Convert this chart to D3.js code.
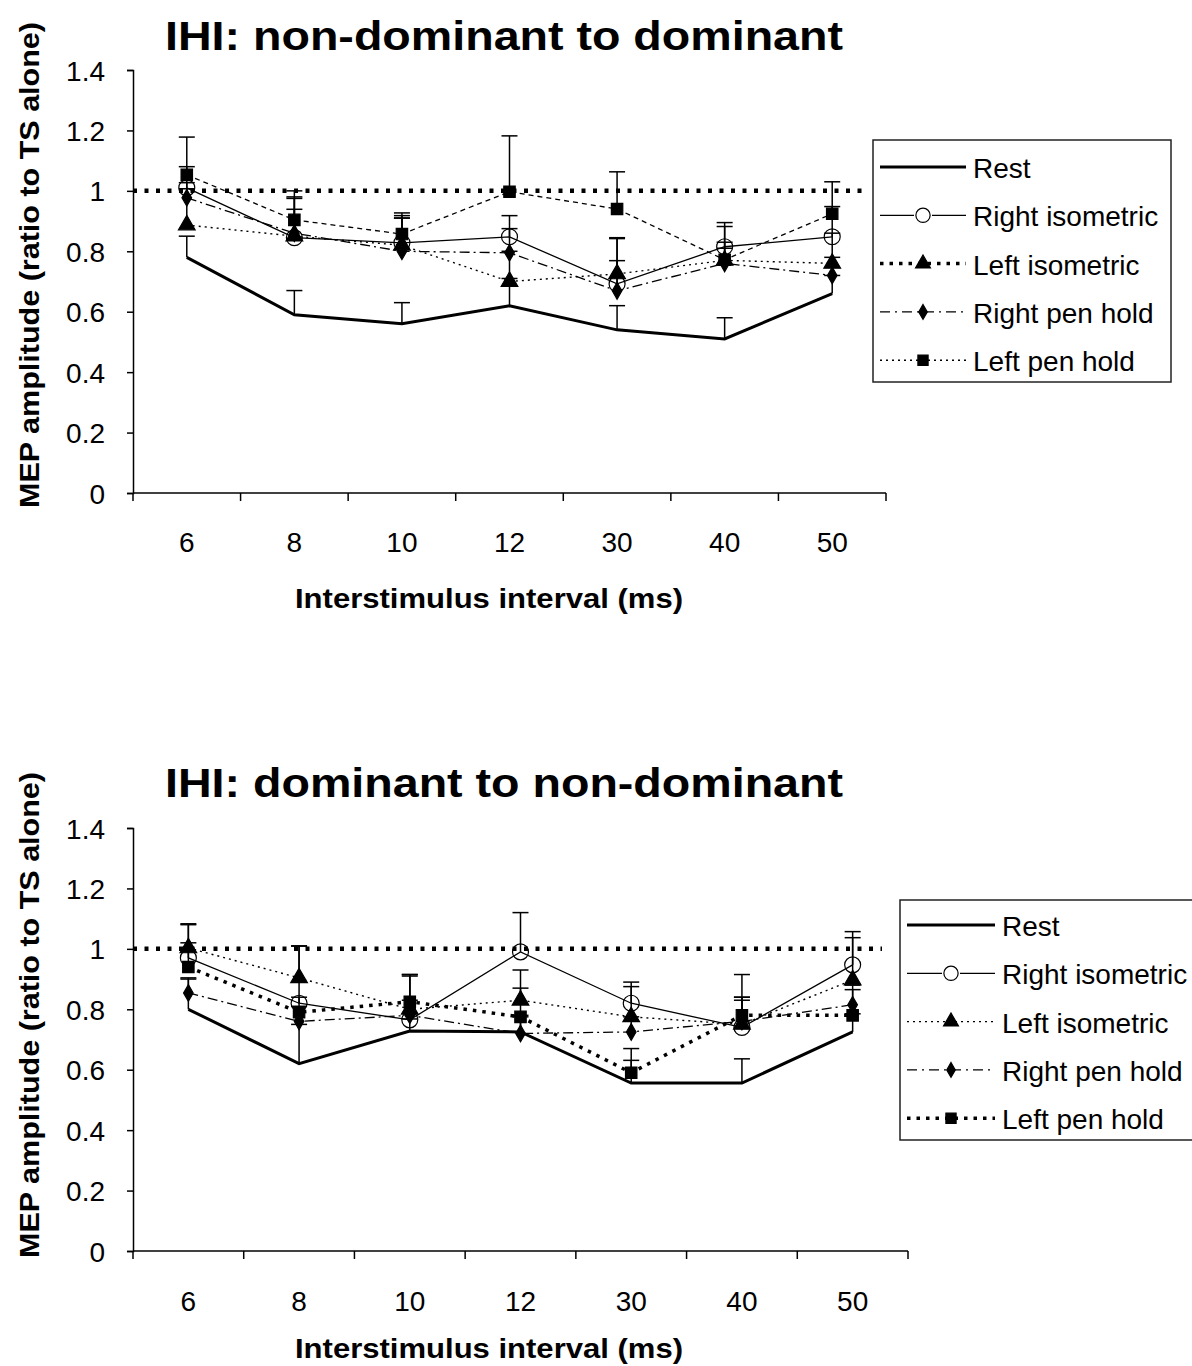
<!DOCTYPE html>
<html>
<head>
<meta charset="utf-8">
<script src="https://cdn.jsdelivr.net/npm/d3@7"></script>
<style>
  body { margin: 0; background: #fff; }
  text { font-family: "Liberation Sans", Arial, sans-serif; fill: #000; }
</style>
</head>
<body>
<svg width="1192" height="1366"></svg>
<script>
// interstimulus intervals (ms)
var isi = ["6", "8", "10", "12", "30", "40", "50"]
var yTicks = [0, 0.2, 0.4, 0.6, 0.8, 1, 1.2, 1.4]
var seriesNames = ["Rest", "Right isometric", "Left isometric", "Right pen hold", "Left pen hold"]

// non-dominant to dominant
var rest1      = [0.78, 0.59, 0.56, 0.62, 0.54, 0.51, 0.66]
var rest1Err   = [0.07, 0.08, 0.07, 0.09, 0.08, 0.07, 0.06]
var rightIso1  = [1.01, 0.845, 0.828, 0.848, 0.692, 0.815, 0.848]
var rightIso1Err = [0.07, 0.13, 0.09, 0.07, 0.15, 0.08, 0.10]
var leftIso1   = [0.887, 0.85, 0.82, 0.70, 0.725, 0.77, 0.76]
var leftIso1Err = [0.12, 0.15, 0.09, 0.10, 0.12, 0.06, 0.10]
var rightPen1  = [0.977, 0.86, 0.80, 0.795, 0.669, 0.76, 0.72]
var rightPen1Err = [0.05, 0.12, 0.11, 0.08, 0.10, 0.05, 0.06]
var leftPen1   = [1.053, 0.904, 0.857, 0.997, 0.94, 0.772, 0.924]
var leftPen1Err = [0.125, 0.035, 0.07, 0.185, 0.123, 0.11, 0.106]

// dominant to non-dominant
var rest2      = [0.80, 0.62, 0.728, 0.725, 0.556, 0.556, 0.725]
var rest2Err   = [0.10, 0.13, 0.04, 0.05, 0.075, 0.08, 0.06]
var rightIso2  = [0.97, 0.82, 0.765, 0.99, 0.82, 0.74, 0.947]
var rightIso2Err = [0.11, 0.19, 0.15, 0.13, 0.07, 0.175, 0.11]
var leftIso2   = [1.003, 0.904, 0.80, 0.83, 0.775, 0.75, 0.897]
var leftIso2Err = [0.08, 0.105, 0.11, 0.10, 0.10, 0.09, 0.14]
var rightPen2  = [0.854, 0.76, 0.78, 0.72, 0.725, 0.76, 0.815]
var rightPen2Err = [0.05, 0.05, 0.05, 0.06, 0.05, 0.07, 0.05]
var leftPen2   = [0.94, 0.79, 0.825, 0.775, 0.59, 0.78, 0.78]
var leftPen2Err = [0.08, 0.05, 0.09, 0.095, 0.08, 0.06, 0.10]

var refLevel = 1 // TS alone

var svg = d3.select("svg")

var markers = [null, d3.symbolCircle, d3.symbolTriangle, d3.symbolDiamond, d3.symbolSquare]
var markerSize = [0, 200, 120, 80, 130]
var markerFill = ["none", "none", "#000", "#000", "#000"]

var heavyDots = {dash: "4,7.5", width: 4.5}
var legendDots = {dash: "3.5,6", width: 3.5}
var lightDots = {dash: "2,4", width: 1.4}
var shortDash = {dash: "5,4", width: 1.3}

var charts = [
  {
    title: "IHI: non-dominant to dominant",
    top: 70, bottom: 493, left: 133, right: 886,
    titleY: 50, tickY: 552, xTitleY: 608, yLabelCenter: 265,
    refEnd: 862,
    vals: [rest1, rightIso1, leftIso1, rightPen1, leftPen1],
    errs: [rest1Err, rightIso1Err, leftIso1Err, rightPen1Err, leftPen1Err],
    lineStyle: [{dash: null, width: 3}, {dash: null, width: 1.3}, lightDots, {dash: "10,4,2,4", width: 1.3}, shortDash],
    legend: {x: 873, y: 140, w: 298, h: 242, rowY: 167, rowH: 48.3, sx0: 880, sx1: 966, tx: 973},
    legendStyle: [{dash: null, width: 3}, {dash: null, width: 1.3}, legendDots, {dash: "10,5,2,5", width: 1.3}, lightDots]
  },
  {
    title: "IHI: dominant to non-dominant",
    top: 828, bottom: 1251, left: 133, right: 908,
    titleY: 797, tickY: 1311, xTitleY: 1358, yLabelCenter: 1015,
    refEnd: 882,
    vals: [rest2, rightIso2, leftIso2, rightPen2, leftPen2],
    errs: [rest2Err, rightIso2Err, leftIso2Err, rightPen2Err, leftPen2Err],
    lineStyle: [{dash: null, width: 3}, {dash: null, width: 1.3}, lightDots, {dash: "10,4,2,4", width: 1.3}, legendDots],
    legend: {x: 900, y: 900, w: 300, h: 240, rowY: 925, rowH: 48.3, sx0: 907, sx1: 995, tx: 1002},
    legendStyle: [{dash: null, width: 3}, {dash: null, width: 1.3}, lightDots, {dash: "10,5,2,5", width: 1.3}, legendDots]
  }
]

charts.forEach(function(c) {
  var x = d3.scaleBand().domain(isi).range([c.left, c.right])
  var y = d3.scaleLinear().domain([0, 1.4]).range([c.bottom, c.top])
  var cx = function(d, i) { return x(isi[i]) + x.bandwidth() / 2 }
  var g = svg.append("g")

  // title
  g.append("text")
    .attr("x", 504).attr("y", c.titleY)
    .attr("text-anchor", "middle")
    .attr("font-size", 40).attr("font-weight", "bold")
    .attr("textLength", 678).attr("lengthAdjust", "spacingAndGlyphs")
    .text(c.title)

  // y axis
  var yAxis = d3.axisLeft(y).tickValues(yTicks).tickSize(6).tickPadding(22)
    .tickFormat(function(d) { return String(+d.toFixed(1)) })
  var ya = g.append("g").attr("transform", "translate(" + c.left + ",0)").call(yAxis)
  ya.select(".domain").attr("stroke", "#000").attr("stroke-width", 1.5)
  ya.selectAll(".tick line").attr("stroke", "#000").attr("stroke-width", 1.5)
  ya.selectAll(".tick text").attr("font-size", 28).attr("font-family", "Liberation Sans, Arial, sans-serif")
    .attr("fill", "#000").attr("dy", "0.36em")

  // x axis: boundary ticks, centred labels
  g.append("line")
    .attr("x1", c.left).attr("x2", c.right)
    .attr("y1", y(0)).attr("y2", y(0))
    .attr("stroke", "#000").attr("stroke-width", 1.5)
  var bounds = isi.map(function(d) { return x(d) }).concat([x(isi[isi.length - 1]) + x.bandwidth()])
  g.selectAll(".xtick").data(bounds).enter().append("line")
    .attr("x1", function(d) { return d }).attr("x2", function(d) { return d })
    .attr("y1", y(0)).attr("y2", y(0) + 8)
    .attr("stroke", "#000").attr("stroke-width", 1.5)
  g.selectAll(".xlab").data(isi).enter().append("text")
    .attr("x", cx).attr("y", c.tickY)
    .attr("text-anchor", "middle").attr("font-size", 28)
    .text(function(d) { return d })

  g.append("text")
    .attr("x", 489).attr("y", c.xTitleY)
    .attr("text-anchor", "middle").attr("font-size", 28).attr("font-weight", "bold")
    .attr("textLength", 388).attr("lengthAdjust", "spacingAndGlyphs")
    .text("Interstimulus interval (ms)")

  g.append("text")
    .attr("transform", "translate(39," + c.yLabelCenter + ") rotate(-90)")
    .attr("text-anchor", "middle").attr("font-size", 27).attr("font-weight", "bold")
    .attr("textLength", 486).attr("lengthAdjust", "spacingAndGlyphs")
    .text("MEP amplitude (ratio to TS alone)")

  // reference line at 1
  g.append("line")
    .attr("x1", c.left).attr("x2", c.refEnd)
    .attr("y1", y(refLevel)).attr("y2", y(refLevel))
    .attr("stroke", "#000").attr("stroke-width", heavyDots.width)
    .attr("stroke-dasharray", heavyDots.dash)

  // series
  c.vals.forEach(function(vals, s) {
    var st = c.lineStyle[s]
    var line = d3.line().x(cx).y(function(d) { return y(d) })
    g.append("path").datum(vals)
      .attr("d", line)
      .attr("fill", "none").attr("stroke", "#000")
      .attr("stroke-width", st.width)
      .attr("stroke-dasharray", st.dash)

    // plus-only error bars
    var errs = c.errs[s]
    var eb = g.selectAll(null).data(vals).enter().append("g")
    eb.append("line")
      .attr("x1", cx).attr("x2", cx)
      .attr("y1", function(d) { return y(d) })
      .attr("y2", function(d, i) { return y(d + errs[i]) })
      .attr("stroke", "#000").attr("stroke-width", 1.5)
    eb.append("line")
      .attr("x1", function(d, i) { return cx(d, i) - 8 })
      .attr("x2", function(d, i) { return cx(d, i) + 8 })
      .attr("y1", function(d, i) { return y(d + errs[i]) })
      .attr("y2", function(d, i) { return y(d + errs[i]) })
      .attr("stroke", "#000").attr("stroke-width", 1.5)

    if (markers[s]) {
      var sym = d3.symbol().type(markers[s]).size(markerSize[s])
      g.selectAll(null).data(vals).enter().append("path")
        .attr("d", sym)
        .attr("transform", function(d, i) { return "translate(" + cx(d, i) + "," + y(d) + ")" })
        .attr("fill", markerFill[s])
        .attr("stroke", "#000").attr("stroke-width", 1.2)
    }
  })

  // legend
  var L = c.legend
  g.append("rect")
    .attr("x", L.x).attr("y", L.y).attr("width", L.w).attr("height", L.h)
    .attr("fill", "#fff").attr("stroke", "#222").attr("stroke-width", 1.5)
  seriesNames.forEach(function(name, s) {
    var ry = L.rowY + s * L.rowH
    var st = c.legendStyle[s]
    g.append("line")
      .attr("x1", L.sx0).attr("x2", L.sx1).attr("y1", ry).attr("y2", ry)
      .attr("stroke", "#000").attr("stroke-width", st.width)
      .attr("stroke-dasharray", st.dash)
    if (markers[s]) {
      var mx = (L.sx0 + L.sx1) / 2
      if (s === 1) {
        g.append("rect").attr("x", mx - 9).attr("y", ry - 9).attr("width", 18).attr("height", 18).attr("fill", "#fff")
      }
      g.append("path")
        .attr("d", d3.symbol().type(markers[s]).size(markerSize[s] * 0.8))
        .attr("transform", "translate(" + mx + "," + ry + ")")
        .attr("fill", markerFill[s] === "none" ? "#fff" : "#000")
        .attr("stroke", "#000").attr("stroke-width", 1.2)
    }
    g.append("text")
      .attr("x", L.tx).attr("y", ry + 11)
      .attr("font-size", 28)
      .text(name)
  })
})
</script>
</body>
</html>
